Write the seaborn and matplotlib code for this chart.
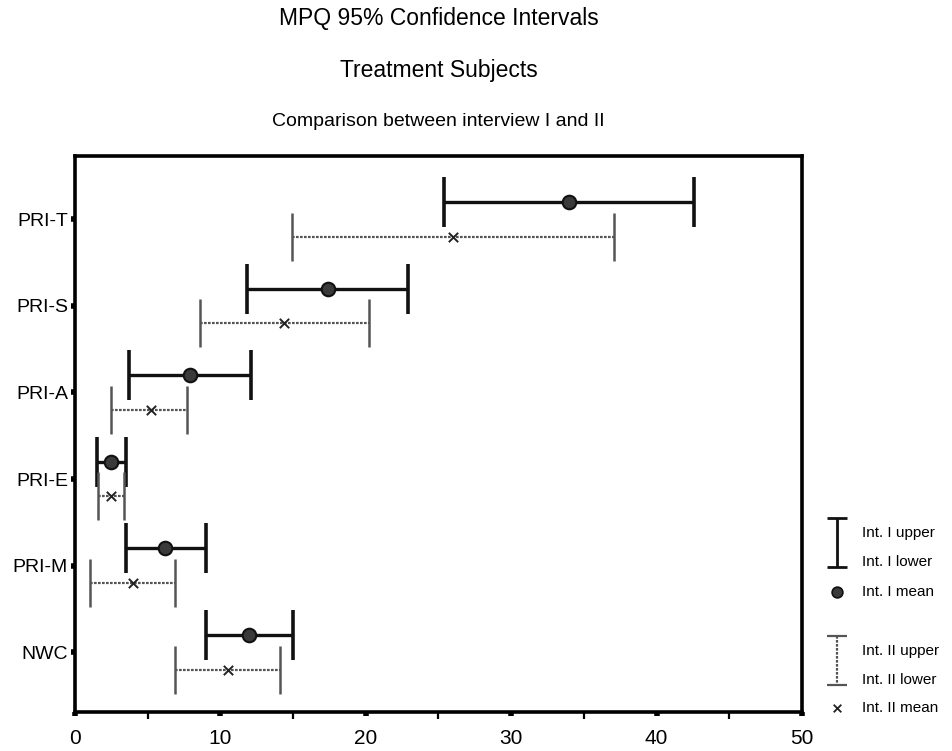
import numpy as np
import pandas as pd
import matplotlib
matplotlib.use("Agg")
import matplotlib.pyplot as plt
import seaborn as sns

# ---- data ----
categories = ["PRI-T", "PRI-S", "PRI-A", "PRI-E", "PRI-M", "NWC"]
int1_lower = [25.4, 11.8, 3.7, 1.5, 3.5, 9.0]
int1_mean = [34.0, 17.4, 7.9, 2.5, 6.2, 12.0]
int1_upper = [42.6, 22.9, 12.1, 3.5, 9.0, 15.0]
int2_lower = [14.9, 8.6, 2.5, 1.6, 1.0, 6.9]
int2_mean = [26.0, 14.4, 5.2, 2.5, 4.0, 10.5]
int2_upper = [37.1, 20.2, 7.7, 3.4, 6.9, 14.1]
x_ticks = [0, 10, 20, 30, 40, 50]
title_lines = ["MPQ 95% Confidence Intervals", "Treatment Subjects",
               "Comparison between interview I and II"]
legend_labels = ["Int. I upper", "Int. I lower", "Int. I mean",
                 "Int. II upper", "Int. II lower", "Int. II mean"]

sns.set_theme(style="white")
plt.rcParams["font.family"] = ["Liberation Sans", "DejaVu Sans"]
plt.rcParams["text.color"] = "black"
plt.rcParams["xtick.color"] = "black"
plt.rcParams["ytick.color"] = "black"
plt.rcParams["axes.labelcolor"] = "black"

W, H = 952, 751
fig = plt.figure(figsize=(W / 100, H / 100), dpi=100)
fig.patch.set_facecolor("white")

ax = fig.add_axes([75 / W, 1 - 712 / H, (802 - 75) / W, (712 - 156) / H])

pos = np.arange(len(categories))
off = 0.2
df1 = pd.DataFrame({"cat": categories, "y": pos - off, "mean": int1_mean,
                    "lo": int1_lower, "hi": int1_upper})
df2 = pd.DataFrame({"cat": categories, "y": pos + off, "mean": int2_mean,
                    "lo": int2_lower, "hi": int2_upper})

# Interview I: solid heavy bars
ax.errorbar(df1["mean"], df1["y"],
            xerr=[df1["mean"] - df1["lo"], df1["hi"] - df1["mean"]],
            fmt="none", ecolor="#111111", elinewidth=2.4, capsize=18,
            capthick=2.6, zorder=2)
# Interview II: dotted grey bars
eb2 = ax.errorbar(df2["mean"], df2["y"],
                  xerr=[df2["mean"] - df2["lo"], df2["hi"] - df2["mean"]],
                  fmt="none", ecolor="#555555", elinewidth=1.6, capsize=17,
                  capthick=1.8, zorder=2)
for lc in eb2[2]:
    lc.set_linestyle((0, (1.2, 0.6)))

sns.scatterplot(data=df1, x="mean", y="y", ax=ax, marker="o", s=95,
                color="#3a3a3a", edgecolor="#111111", linewidth=1.5,
                zorder=3, legend=False)
sns.scatterplot(data=df2, x="mean", y="y", ax=ax, marker="x", s=45,
                color="#222222", linewidth=1.4, zorder=3, legend=False)

ax.set_xlim(0, 50)
ax.set_ylim(5.69, -0.73)
ax.set_xticks(x_ticks)
ax.set_xticklabels([str(t) for t in x_ticks])
ax.set_xticks([5, 15, 25, 35, 45], minor=True)
ax.set_yticks(pos)
ax.set_yticklabels(categories)
ax.set_xlabel("")
ax.set_ylabel("")
ax.tick_params(axis="x", which="major", direction="out", length=3, width=4,
               color="black", labelcolor="black", labelsize=15, pad=9, bottom=True)
ax.tick_params(axis="x", which="minor", direction="out", length=5, width=1.6,
               color="black", bottom=True)
ax.tick_params(axis="y", which="major", direction="out", length=3, width=4,
               color="black", labelcolor="black", labelsize=14, pad=2, left=True)
for sp in ax.spines.values():
    sp.set_visible(True)
    sp.set_color("black")
    sp.set_linewidth(2.6)
ax.grid(False)

# titles
cx = (75 + 802) / 2 / W
fig.text(cx, 1 - 18 / H, title_lines[0], ha="center", va="center", fontsize=16.5)
fig.text(cx, 1 - 70 / H, title_lines[1], ha="center", va="center", fontsize=16.5)
fig.text(cx, 1 - 122 / H, title_lines[2], ha="center", va="center", fontsize=14)

# legend drawn in a pixel-coordinate overlay
lax = fig.add_axes([0, 0, 1, 1], zorder=-1)
lax.set_xlim(0, W)
lax.set_ylim(H, 0)
lax.axis("off")
lx, tx = 837, 862
lax.errorbar([lx], [542.5], yerr=[[24.5], [24.5]], fmt="none",
             ecolor="#111111", elinewidth=2.0, capsize=7, capthick=2.0)
lax.scatter([lx], [592], marker="o", s=60, color="#3a3a3a",
            edgecolor="#111111", linewidth=1.2)
e = lax.errorbar([lx], [660.5], yerr=[[24.5], [24.5]], fmt="none",
                 ecolor="#555555", elinewidth=1.6, capsize=7, capthick=1.6)
for lc in e[2]:
    lc.set_linestyle((0, (1.2, 0.6)))
lax.scatter([lx], [708], marker="x", s=30, color="#222222", linewidth=1.3)
leg_y = [533, 562, 592, 651, 680, 708]
for lab, yy in zip(legend_labels, leg_y):
    lax.text(tx, yy, lab, ha="left", va="center", fontsize=11)

fig.savefig("out.png", dpi=100, facecolor="white")
